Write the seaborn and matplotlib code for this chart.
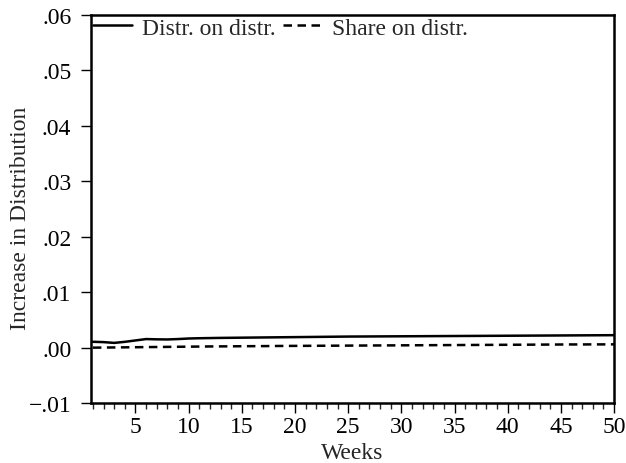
import matplotlib.pyplot as plt
import matplotlib.ticker as mticker
import pandas as pd
import seaborn as sns

# datos
weeks = list(range(1, 51))
distr_on_distr = [
    0.00106, 0.00100, 0.00086, 0.00105, 0.00130, 0.00155, 0.00150, 0.00148, 0.00155, 0.00165,
    0.00170, 0.00173, 0.00176, 0.00178, 0.00180, 0.00182, 0.00184, 0.00186, 0.00188, 0.00190,
    0.00192, 0.00194, 0.00196, 0.00198, 0.00200, 0.00201, 0.00202, 0.00203, 0.00204, 0.00205,
    0.00206, 0.00207, 0.00208, 0.00209, 0.00210, 0.00211, 0.00212, 0.00213, 0.00214, 0.00215,
    0.00216, 0.00217, 0.00218, 0.00219, 0.00220, 0.00221, 0.00222, 0.00223, 0.00224, 0.00225,
]
share_on_distr = [
    0.00000, 0.00002, 0.00004, 0.00006, 0.00008, 0.00010, 0.00012, 0.00014, 0.00016, 0.00018,
    0.00020, 0.00022, 0.00023, 0.00024, 0.00026, 0.00027, 0.00028, 0.00030, 0.00031, 0.00032,
    0.00033, 0.00034, 0.00035, 0.00036, 0.00037, 0.00038, 0.00039, 0.00040, 0.00041, 0.00042,
    0.00043, 0.00044, 0.00045, 0.00046, 0.00047, 0.00048, 0.00049, 0.00050, 0.00051, 0.00052,
    0.00053, 0.00054, 0.00055, 0.00056, 0.00057, 0.00058, 0.00058, 0.00059, 0.00059, 0.00060,
]
series_names = ['Distr. on distr.', 'Share on distr.']
y_ticks = [-0.01, 0.00, 0.01, 0.02, 0.03, 0.04, 0.05, 0.06]
x_ticks = [5, 10, 15, 20, 25, 30, 35, 40, 45, 50]

df = pd.concat([
    pd.DataFrame({'Weeks': weeks, 'valor': distr_on_distr, 'serie': series_names[0]}),
    pd.DataFrame({'Weeks': weeks, 'valor': share_on_distr, 'serie': series_names[1]}),
])

sns.set_style('ticks')
plt.rcParams['font.family'] = ['Liberation Serif', 'DejaVu Serif']

fig = plt.figure(figsize=(6.26, 4.64), dpi=100)
ax = fig.add_axes([0.145, 0.129, 0.836, 0.837])

sns.lineplot(data=df, x='Weeks', y='valor', style='serie', style_order=series_names,
             dashes={series_names[0]: '', series_names[1]: (3.4, 2.2)},
             color='black', linewidth=1.8, ax=ax)

ax.set_xlim(0.8, 50)
ax.set_ylim(-0.01, 0.06)
ax.set_xticks(x_ticks)
ax.xaxis.set_minor_locator(mticker.MultipleLocator(1))
ax.set_yticks(y_ticks)


def fmt_y(v, pos):
    s = f'{v:.2f}'.replace('0.', '.')
    return s.replace('-', '\u2212')


ax.yaxis.set_major_formatter(mticker.FuncFormatter(fmt_y))

for side in ['top', 'right', 'bottom', 'left']:
    ax.spines[side].set_visible(True)
    ax.spines[side].set_linewidth(1.8)
    ax.spines[side].set_color('black')

ax.tick_params(axis='both', which='major', direction='out', length=7, width=1,
               labelsize=17, colors='black')
ax.tick_params(axis='x', which='minor', direction='out', length=4, width=1)
ax.tick_params(axis='x', which='major', pad=2)
ax.tick_params(axis='y', which='major', pad=7)

ax.set_xlabel('Weeks', fontsize=17, labelpad=4)
ax.set_ylabel('Increase in Distribution', fontsize=17, va='center')
ax.yaxis.set_label_coords(-0.135, 0.478)

leg = ax.legend(loc='upper left', ncol=2, frameon=False, fontsize=17,
                handlelength=1.65, handletextpad=0.42, columnspacing=0.3,
                borderaxespad=0.0, borderpad=0.1)
for h in leg.get_lines():
    h.set_linewidth(1.8)

fig.savefig('out.png', dpi=100)
